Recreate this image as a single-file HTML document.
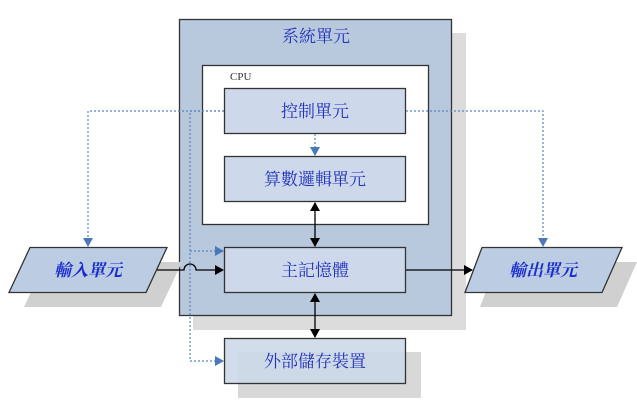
<!DOCTYPE html>
<html><head><meta charset="utf-8"><style>
body{margin:0;background:#fff;}
svg text{font-family:"Liberation Serif","Noto Serif CJK SC",serif;}
</style></head><body>
<svg width="637" height="401" viewBox="0 0 637 401" xmlns="http://www.w3.org/2000/svg">
<defs>
<marker id="ab" markerWidth="10" markerHeight="10" refX="8" refY="5" orient="auto" markerUnits="userSpaceOnUse"><path d="M0,0 L9,5 L0,10 z" fill="#4a78b8"/></marker>
<marker id="ak" markerWidth="10" markerHeight="10" refX="8" refY="5" orient="auto" markerUnits="userSpaceOnUse"><path d="M0,0 L9,5 L0,10 z" fill="#000"/></marker>
<marker id="aks" markerWidth="10" markerHeight="10" refX="1" refY="5" orient="auto" markerUnits="userSpaceOnUse"><path d="M9,0 L0,5 L9,10 z" fill="#000"/></marker>
</defs>
<rect width="637" height="401" fill="#fff"/>
<!-- system -->
<rect x="193" y="33" width="273" height="297" fill="#dcdcdc"/>
<rect x="179.5" y="19.5" width="272" height="296" fill="#b9c9dd" stroke="#333" stroke-width="1.3"/>
<text x="316" y="42" font-size="17" fill="#2233bb" text-anchor="middle">系統單元</text>
<rect x="202.5" y="65.5" width="226" height="159" fill="#fff" stroke="#333" stroke-width="1.3"/>
<text x="230" y="80" font-size="11" fill="#333">CPU</text>
<!-- external shadow -->
<rect x="238" y="352" width="183" height="46" fill="#d8d8d8"/>
<!-- input/output shadows -->
<polygon points="45,262 182,262 161,307 24,307" fill="#d0d0d0"/>
<polygon points="497,262 637,262 617,307 480,307" fill="#d0d0d0"/>
<!-- boxes -->
<rect x="224.5" y="88.5" width="181" height="45" fill="#cdd9ea" stroke="#333" stroke-width="1.3"/>
<rect x="224.5" y="156.5" width="181" height="45" fill="#cdd9ea" stroke="#333" stroke-width="1.3"/>
<rect x="224.5" y="247.5" width="181" height="45" fill="#cdd9ea" stroke="#333" stroke-width="1.3"/>
<rect x="224.5" y="338.5" width="181" height="45" fill="#cdd9ea" stroke="#333" stroke-width="1.3" fill-opacity="0.9"/>
<polygon points="30,247.5 167,247.5 146,292.5 9,292.5" fill="#bccde3" stroke="#333" stroke-width="1.3"/>
<polygon points="482,247.5 622,247.5 602,292.5 465,292.5" fill="#bccde3" stroke="#333" stroke-width="1.3"/>
<!-- labels -->
<g font-size="17" fill="#2233bb" text-anchor="middle">
<text x="315" y="117">控制單元</text>
<text x="315" y="185">算數邏輯單元</text>
<text x="315" y="276">主記憶體</text>
<text x="315" y="367">外部儲存裝置</text>
<text x="88" y="276" font-style="italic" font-weight="bold" fill="#1a2ecc">輸入單元</text>
<text x="543" y="276" font-style="italic" font-weight="bold" fill="#1a2ecc">輸出單元</text>
</g>
<!-- dotted -->
<g fill="none" stroke="#5a84c0" stroke-width="1.2" stroke-dasharray="2,2">
<path d="M224,111 H88 V246" marker-end="url(#ab)"/>
<path d="M406,111 H543 V246" marker-end="url(#ab)"/>
<path d="M224,111 H190 V361 H223" marker-end="url(#ab)"/>
<path d="M190,251 H223" marker-end="url(#ab)"/>
<path d="M315,134 V155" marker-end="url(#ab)"/>
</g>
<!-- solid -->
<g fill="none" stroke="#000" stroke-width="1.3">
<path d="M157,270 H184 A6,6 0 0 1 196,270 H223" marker-end="url(#ak)"/>
<path d="M406,270 H472" marker-end="url(#ak)"/>
<path d="M315,203 V246" marker-start="url(#aks)" marker-end="url(#ak)"/>
<path d="M315,294 V337" marker-start="url(#aks)" marker-end="url(#ak)"/>
</g>
</svg>
</body></html>
